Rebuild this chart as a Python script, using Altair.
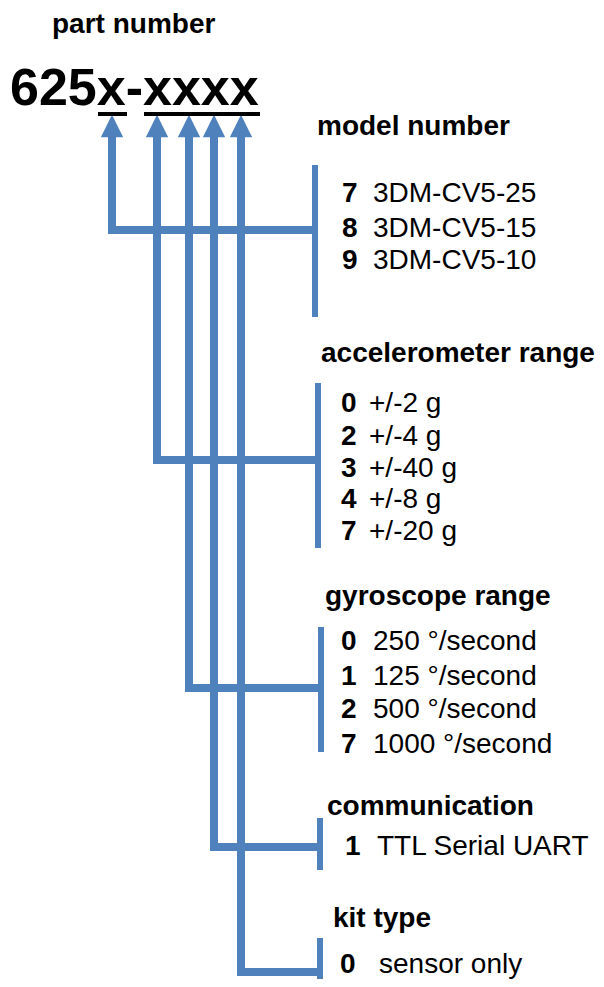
import altair as alt
import pandas as pd

# ---- content ----
title_text = "part number"
part_code = "625x-xxxx"
headers = ["model number", "accelerometer range", "gyroscope range", "communication", "kit type"]
codes = [["7", "8", "9"],
         ["0", "2", "3", "4", "7"],
         ["0", "1", "2", "7"],
         ["1"],
         ["0"]]
descs = [["3DM-CV5-25", "3DM-CV5-15", "3DM-CV5-10"],
         ["+/-2 g", "+/-4 g", "+/-40 g", "+/-8 g", "+/-20 g"],
         ["250 °/second", "125 °/second", "500 °/second", "1000 °/second"],
         ["TTL Serial UART"],
         ["sensor only"]]

# ---- layout (pixel positions on the 604x987 page) ----
header_x = [317, 321, 325, 327, 333]
header_y = [135, 362, 605, 815, 927]
bar_x = [315, 318, 321, 320, 320]
bar_y0 = [165, 383, 627, 818, 938]
bar_y1 = [317, 548, 752, 870, 995]
item_y = [[202, 237, 269], [412, 445, 477, 508, 540], [650, 685, 718, 753], [855], [973]]
code_x = [342, 341, 341, 345, 340]
desc_x = [373, 369, 373, 377, 379]
connector_y = [230, 460, 688, 847, 972]
arrow_x = [112, 157, 189, 214, 241]
arrow_tip_y = 126
shaft_top = 132
underline_x0 = [98, 144]
underline_x1 = [127, 260]
underline_y = 114

BLUE = "#4F81BD"
FONT = "Liberation Sans"

X = lambda f: alt.X(f, type="quantitative", scale=alt.Scale(domain=[8, 596], nice=False, zero=False), axis=None)
Y = lambda f: alt.Y(f, type="quantitative", scale=alt.Scale(domain=[8, 979], nice=False, zero=False, reverse=True), axis=None)

# tables
headers_df = pd.DataFrame({"x": header_x, "y": header_y, "t": headers})
title_df = pd.DataFrame({"x": [52], "y": [33], "t": [title_text]})
code_df = pd.DataFrame({"x": [10], "y": [105], "t": [part_code]})
under_df = pd.DataFrame({"x": underline_x0, "x2": underline_x1, "y": [underline_y] * 2})

rows_code, rows_desc = [], []
for i in range(len(headers)):
    for c, d, yy in zip(codes[i], descs[i], item_y[i]):
        rows_code.append({"x": code_x[i], "y": yy, "t": c})
        rows_desc.append({"x": desc_x[i], "y": yy, "t": d})
items_code_df = pd.DataFrame(rows_code)
items_desc_df = pd.DataFrame(rows_desc)

bars_df = pd.DataFrame({"x": bar_x, "y": bar_y0, "y2": bar_y1})

path_rows = []
for i in range(len(headers)):
    path_rows.append({"p": i, "o": 0, "x": arrow_x[i], "y": shaft_top})
    path_rows.append({"p": i, "o": 1, "x": arrow_x[i], "y": connector_y[i]})
    path_rows.append({"p": i, "o": 2, "x": bar_x[i], "y": connector_y[i]})
paths_df = pd.DataFrame(path_rows)
arrows_df = pd.DataFrame({"x": arrow_x, "y": [arrow_tip_y] * len(arrow_x)})

paths = alt.Chart(paths_df).mark_line(color=BLUE, strokeWidth=8, strokeJoin="miter", strokeCap="butt").encode(
    x=X("x"), y=Y("y"), detail="p:N", order="o:Q")
arrows = alt.Chart(arrows_df).mark_point(shape="M0,-1L-1,1L1,1Z", size=500, filled=True, color=BLUE,
                                         opacity=1, strokeWidth=0).encode(x=X("x"), y=Y("y"))
bars = alt.Chart(bars_df).mark_rule(color=BLUE, strokeWidth=6).encode(x=X("x"), y=Y("y"), y2="y2")
under = alt.Chart(under_df).mark_rule(color="black", strokeWidth=4).encode(x=X("x"), x2="x2", y=Y("y"))

txt = dict(align="left", baseline="alphabetic", font=FONT, color="black")
title = alt.Chart(title_df).mark_text(fontSize=28, fontWeight="bold", **txt).encode(x=X("x"), y=Y("y"), text="t")
big = alt.Chart(code_df).mark_text(fontSize=52, fontWeight="bold", **txt).encode(x=X("x"), y=Y("y"), text="t")
heads = alt.Chart(headers_df).mark_text(fontSize=28, fontWeight="bold", **txt).encode(x=X("x"), y=Y("y"), text="t")
icode = alt.Chart(items_code_df).mark_text(fontSize=28, fontWeight="bold", **txt).encode(x=X("x"), y=Y("y"), text="t")
idesc = alt.Chart(items_desc_df).mark_text(fontSize=28, **txt).encode(x=X("x"), y=Y("y"), text="t")

chart = alt.layer(paths, arrows, bars, under, title, big, heads, icode, idesc).properties(
    width=588, height=971, padding=0, autosize=alt.AutoSizeParams(type="none")
).configure_view(stroke=None)

chart.save("out.html", embed_options={"renderer": "svg", "actions": False})
